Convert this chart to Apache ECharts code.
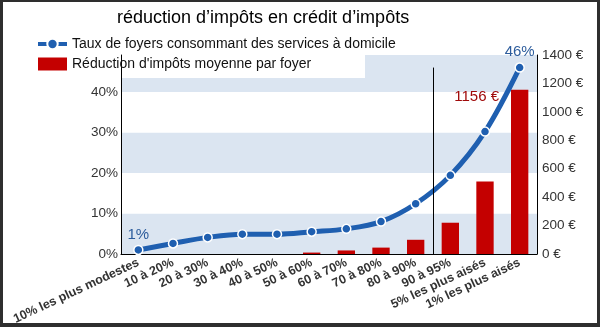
<!DOCTYPE html>
<html>
<head>
<meta charset="utf-8">
<script src="https://cdn.jsdelivr.net/npm/echarts@6/dist/echarts.min.js"></script>
<style>
  html, body { margin: 0; padding: 0; background: #fff; }
  #chart { position: absolute; left: 0; top: 0; width: 600px; height: 327px; }
  #frame {
    position: absolute; left: 0; top: 0; width: 600px; height: 327px;
    box-sizing: border-box; pointer-events: none;
    border-style: solid; border-color: #2e2e2e;
    border-width: 2px 3px 4px 3px;
  }
</style>
</head>
<body>
<div id="chart"></div>
<div id="frame"></div>
<script>
// Income brackets of households
const categories = [
  '10% les plus modestes', '10 à 20%', '20 à 30%', '30 à 40%', '40 à 50%',
  '50 à 60%', '60 à 70%', '70 à 80%', '80 à 90%', '90 à 95%',
  '5% les plus aisés', '1% les plus aisés'
];
// Share of households using home services (%)
const tauxFoyers = [1, 2.6, 4.1, 4.9, 4.9, 5.5, 6.2, 8.0, 12.4, 19.4, 30.2, 46];
// Average tax reduction per household (€)
const reductionMoyenne = [0, 0, 0, 0, 0, 10, 25, 45, 100, 220, 510, 1156];
// Right axis ticks (€)
const euroTicks = [0, 200, 400, 600, 800, 1000, 1200, 1400];
// Separator between the 80-90% and 90-95% brackets
const separatorIndex = 9;

const FONT = '"Liberation Sans", Arial, sans-serif';
const BLUE = '#1f5fb0';
const RED = '#c40000';
const LINE_NAME = 'Taux de foyers consommant des services à domicile';
const BAR_NAME = 'Réduction d\'impôts moyenne par foyer';

const lineData = tauxFoyers.map((v, i) => {
  const item = { value: v };
  if (i === 0 || i === tauxFoyers.length - 1) {
    item.label = {
      show: true, position: 'top', distance: i === 0 ? 2 : 3,
      formatter: '{c}%', color: '#2c5c9c', fontSize: 15, fontFamily: FONT
    };
  }
  return item;
});

const barData = reductionMoyenne.map((v, i) => {
  const item = { value: v };
  if (i === reductionMoyenne.length - 1) {
    item.label = {
      show: true, position: [-12, 7], align: 'right', verticalAlign: 'middle',
      formatter: '{c} €', color: '#a00a0a', fontSize: 15, fontFamily: FONT
    };
  }
  return item;
});

const chart = echarts.init(document.getElementById('chart'), null, { renderer: 'canvas' });
chart.setOption({
  backgroundColor: '#fff',
  animation: false,
  title: {
    text: 'réduction d’impôts en crédit d’impôts',
    left: 112, top: 4,
    textStyle: { fontFamily: FONT, fontSize: 18, fontWeight: 'normal', color: '#000' }
  },
  legend: {
    orient: 'vertical', left: 31, top: 32, itemGap: 6,
    itemWidth: 29, itemHeight: 13,
    textStyle: { fontFamily: FONT, fontSize: 14, color: '#111' },
    data: [
      { name: LINE_NAME, lineStyle: { width: 4 } },
      { name: BAR_NAME, icon: 'rect' }
    ]
  },
  grid: { left: 121, right: 63, top: 55, bottom: 73 },
  graphic: [{
    type: 'rect', z: 1,
    shape: { x: 122, y: 55, width: 243, height: 23 },
    style: { fill: '#fff' }
  }],
  xAxis: [{
    type: 'category', data: categories,
    axisLine: { lineStyle: { color: '#000', width: 1 } },
    axisTick: { show: false },
    axisLabel: {
      rotate: 25, margin: 8, interval: 0,
      fontFamily: FONT, fontSize: 12.5, fontWeight: 'bold', color: '#333'
    }
  }, {
    type: 'value', min: 0, max: categories.length, show: false
  }],
  yAxis: [{
    type: 'value', min: 0, max: 49.1, interval: 10,
    axisLine: { show: true, lineStyle: { color: '#000', width: 1 } },
    axisTick: { show: false },
    splitLine: { show: false },
    splitArea: { show: true, areaStyle: { color: ['#dbe5f1', '#ffffff'] } },
    axisLabel: {
      fontFamily: FONT, fontSize: 13.5, color: '#333', margin: 3,
      formatter: v => (v % 10 === 0 ? v + '%' : '')
    }
  }, {
    type: 'value', min: euroTicks[0], max: euroTicks[euroTicks.length - 1],
    interval: euroTicks[1] - euroTicks[0], position: 'right',
    axisLine: { show: true, lineStyle: { color: '#000', width: 1 } },
    axisTick: { show: false },
    splitLine: { show: false },
    axisLabel: { fontFamily: FONT, fontSize: 13.5, color: '#333', margin: 5, formatter: v => v + ' €' }
  }],
  series: [{
    name: BAR_NAME,
    type: 'bar', yAxisIndex: 1, barWidth: '50%', z: 2,
    itemStyle: { color: RED },
    data: barData
  }, {
    name: 'separator', type: 'line', xAxisIndex: 1, yAxisIndex: 0, data: [],
    silent: true, z: 3,
    markLine: {
      silent: true, symbol: 'none', label: { show: false },
      lineStyle: { color: '#000', width: 1, type: 'solid' },
      data: [[{ coord: [separatorIndex, tauxFoyers[tauxFoyers.length - 1]] }, { coord: [separatorIndex, 0] }]]
    }
  }, {
    name: LINE_NAME,
    type: 'line', yAxisIndex: 0, smooth: 0.35, z: 4,
    symbol: 'circle', symbolSize: 9,
    lineStyle: { color: BLUE, width: 5 },
    itemStyle: { color: BLUE, borderColor: '#fff', borderWidth: 1.5 },
    data: lineData
  }]
});
</script>
</body>
</html>
